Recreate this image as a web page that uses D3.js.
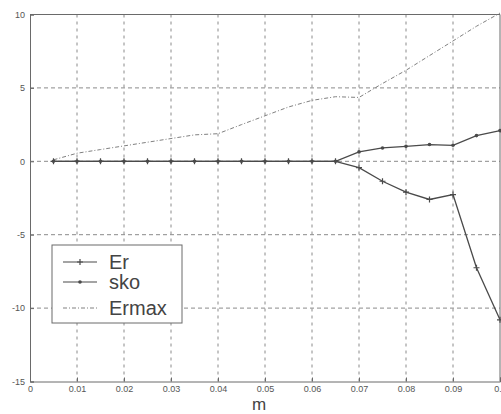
<!DOCTYPE html>
<html><head><meta charset="utf-8">
<script src="https://cdn.jsdelivr.net/npm/d3@7"></script>
<style>body{margin:0;background:#fff}svg{display:block}</style>
</head><body>
<script>
const mValues = [0.005,0.01,0.015,0.02,0.025,0.03,0.035,0.04,0.045,0.05,0.055,0.06,0.065,0.07,0.075,0.08,0.085,0.09,0.095,0.1];
const erValues = [0,0,0,0,0,0,0,0,0,0,0,0,0,-0.43,-1.36,-2.1,-2.6,-2.27,-7.25,-10.8];
const skoValues = [0,0,0,0,0,0,0,0,0,0,0,0,0,0.64,0.91,1.02,1.14,1.09,1.75,2.09];
const ermaxValues = [0.1,0.55,0.8,1.05,1.3,1.55,1.8,1.88,2.5,3.1,3.7,4.15,4.4,4.35,5.3,6.2,7.2,8.2,9.2,10.1];
const xTicks = [0,0.01,0.02,0.03,0.04,0.05,0.06,0.07,0.08,0.09,0.1];
const yTicks = [-15,-10,-5,0,5,10];
const seriesNames = ["Er","sko","Ermax"];

const W=501,H=414;
const svg=d3.select("body").append("svg").attr("width",W).attr("height",H);
const x=d3.scaleLinear().domain([0,0.1]).range([30,500]);
const y=d3.scaleLinear().domain([-15,10]).range([381.5,14.5]);
const gridCol="#8a8a8a", axCol="#6a6a6a", txtCol="#555";
const font="Liberation Sans, Arial, sans-serif";

// grid
svg.append("g").selectAll("line").data(xTicks.slice(1,-1)).join("line")
  .attr("x1",d=>x(d)).attr("x2",d=>x(d)).attr("y1",y(10)).attr("y2",y(-15))
  .attr("stroke",gridCol).attr("stroke-width",1).attr("stroke-dasharray","3,4");
svg.append("g").selectAll("line").data(yTicks.slice(1,-1)).join("line")
  .attr("x1",x(0)).attr("x2",x(0.1)).attr("y1",d=>y(d)).attr("y2",d=>y(d))
  .attr("stroke",gridCol).attr("stroke-width",1).attr("stroke-dasharray","4,3");

// axes
const xAxis=svg.append("g").attr("transform",`translate(0,${y(-15)})`)
  .call(d3.axisBottom(x).tickValues(xTicks).tickSize(-4).tickPadding(4).tickFormat(d=>d===0?"0":String(+d.toFixed(2))));
const yAxis=svg.append("g").attr("transform",`translate(${x(0)},0)`)
  .call(d3.axisLeft(y).tickValues(yTicks).tickSize(-4).tickPadding(5).tickFormat(d=>String(d)));
[xAxis,yAxis].forEach(g=>{
  g.select(".domain").attr("stroke",axCol);
  g.selectAll(".tick line").attr("stroke",axCol);
  g.selectAll("text").attr("fill",txtCol).attr("font-family",font).attr("font-size",9);
});
// top/right border
svg.append("line").attr("x1",x(0)).attr("x2",x(0.1)).attr("y1",y(10)).attr("y2",y(10)).attr("stroke",axCol);
svg.append("line").attr("x1",x(0.1)).attr("x2",x(0.1)).attr("y1",y(10)).attr("y2",y(-15)).attr("stroke",axCol);

const line=d3.line().x(d=>x(d[0])).y(d=>y(d[1]));
const er=mValues.map((m,i)=>[m,erValues[i]]);
const sko=mValues.map((m,i)=>[m,skoValues[i]]);
const ermax=mValues.map((m,i)=>[m,ermaxValues[i]]);
const lineCol="#4a4a4a";

svg.append("path").datum(ermax).attr("d",line).attr("fill","none").attr("stroke","#808080").attr("stroke-width",1).attr("stroke-dasharray","4,2,1,2");
svg.append("path").datum(sko).attr("d",line).attr("fill","none").attr("stroke",lineCol).attr("stroke-width",1.3);
svg.append("path").datum(er).attr("d",line).attr("fill","none").attr("stroke",lineCol).attr("stroke-width",1.3);
// markers
svg.append("g").selectAll("circle").data(sko).join("circle")
  .attr("cx",d=>x(d[0])).attr("cy",d=>y(d[1])).attr("r",1.8).attr("fill",lineCol);
const plus=svg.append("g").attr("stroke",lineCol).attr("stroke-width",1.2);
plus.selectAll("path").data(er).join("path")
  .attr("d",d=>{const cx=x(d[0]),cy=y(d[1]);return `M${cx-3},${cy}H${cx+3}M${cx},${cy-3}V${cy+3}`;});

// x label
svg.append("text").attr("x",259).attr("y",410).attr("text-anchor","middle")
  .attr("font-family",font).attr("font-size",17).attr("fill","#444").text("m");

// legend
const lg=svg.append("g");
lg.append("rect").attr("x",52).attr("y",245).attr("width",130).attr("height",78)
  .attr("fill","#fff").attr("stroke",axCol).attr("stroke-width",1);
const ly=[262,282,308];
seriesNames.forEach((n,i)=>{
  const l=lg.append("line").attr("x1",63).attr("x2",97).attr("y1",ly[i]).attr("y2",ly[i]);
  if(i===2) l.attr("stroke","#808080").attr("stroke-dasharray","4,2,1,2");
  else l.attr("stroke",lineCol).attr("stroke-width",1.2);
  if(i===0) lg.append("path").attr("d",`M80,${ly[i]-3}V${ly[i]+3}M77,${ly[i]}H83`).attr("stroke",lineCol).attr("stroke-width",1.2);
  if(i===1) lg.append("circle").attr("cx",80).attr("cy",ly[i]).attr("r",1.8).attr("fill",lineCol);
  lg.append("text").attr("x",109).attr("y",ly[i]+7).attr("font-family",font)
    .attr("font-size",20).attr("fill","#444").text(n);
});
</script>
</body></html>
